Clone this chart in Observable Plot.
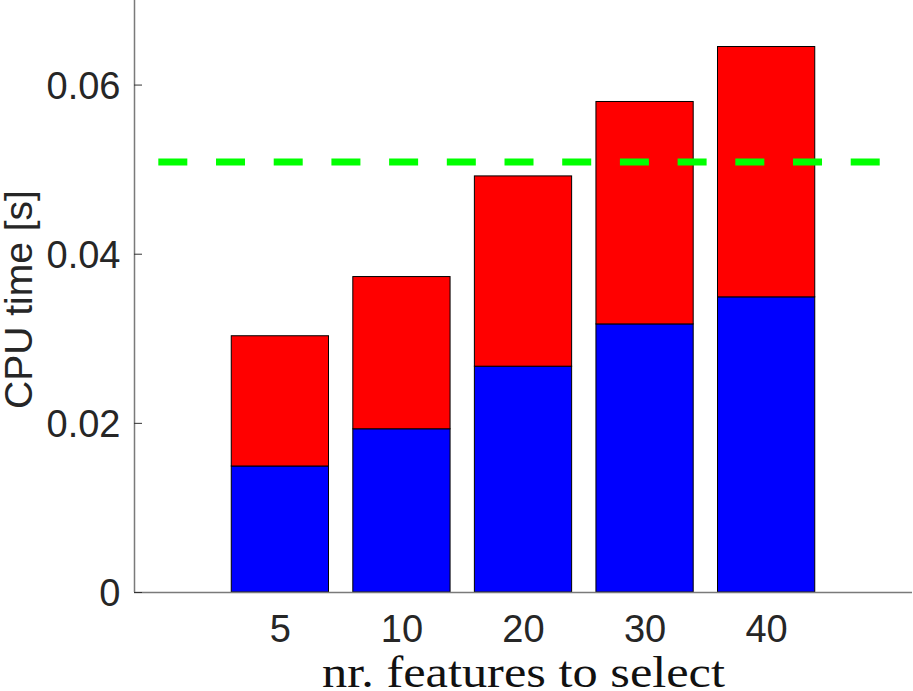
<!DOCTYPE html>
<html>
<head>
<meta charset="utf-8">
<script src="https://cdn.jsdelivr.net/npm/d3@7"></script>
<script src="https://cdn.jsdelivr.net/npm/@observablehq/plot@0.6"></script>
<style>
  html, body { margin: 0; padding: 0; background: #fff; }
  #chart svg { display: block; }
</style>
</head>
<body>
<div id="chart"></div>
<script>
// ---- data ----
const categories = ["5", "10", "20", "30", "40"];
const lowerValues = [0.0149, 0.0193, 0.0267, 0.0317, 0.0349];   // blue part
const totalValues = [0.0303, 0.0373, 0.0492, 0.0580, 0.0645];   // top of red part
const referenceValue = 0.0509;                                  // green dashed line
const yTicks = [0, 0.02, 0.04, 0.06];
const yTickLabels = ["0", "0.02", "0.04", "0.06"];
const xLabel = "nr. features to select";
const yLabel = "CPU time [s]";

// ---- build table ----
const rows = categories.map((c, i) => ({
  cat: c, pos: i + 1, lower: lowerValues[i], total: totalValues[i]
}));

const W = 913, H = 691, ML = 134, MR = 1, MT = 0, MB = 99;
const plotW = W - ML - MR;
const textColor = "#262626";

const chart = Plot.plot({
  width: W, height: H,
  marginLeft: ML, marginRight: MR, marginTop: MT, marginBottom: MB,
  style: { fontFamily: "'Liberation Sans', Arial, Helvetica, sans-serif", background: "#fff", overflow: "visible", color: textColor },
  x: { type: "linear", domain: [-0.2, 6.2] },
  y: { domain: [0, 0.07] },
  marks: [
    Plot.rect(rows, { x1: d => d.pos - 0.4, x2: d => d.pos + 0.4, y1: 0, y2: "lower", fill: "#0000ff", stroke: "#000", strokeWidth: 1 }),
    Plot.rect(rows, { x1: d => d.pos - 0.4, x2: d => d.pos + 0.4, y1: "lower", y2: "total", fill: "#ff0000", stroke: "#000", strokeWidth: 1 }),
    Plot.ruleY([referenceValue], { x1: 0, x2: 6, stroke: "#00ff00", strokeWidth: 7, strokeDasharray: "29,28.7" }),
    Plot.ruleX([-0.2], { stroke: "#7a7a7a", strokeWidth: 1.5 }),
    Plot.ruleY([0], { stroke: "#7a7a7a", strokeWidth: 1.5 }),
    Plot.tickY(yTicks, { y: d => d, stroke: "#333", strokeWidth: 1, insetRight: plotW - 8 }),
    Plot.axisY({
      ticks: yTicks, tickFormat: d => yTickLabels[yTicks.indexOf(d)],
      tickSize: 0, tickPadding: 14, fontSize: 38, dy: 1.5, label: null, fill: textColor
    }),
    Plot.axisX({
      ticks: rows.map(d => d.pos), tickFormat: d => categories[d - 1],
      tickSize: 0, tickPadding: 23, fontSize: 38, label: null, fill: textColor
    }),
    Plot.text([yLabel], { frameAnchor: "left", textAnchor: "middle", lineAnchor: "middle", dx: -115, dy: 3, rotate: -90, fontSize: 39, fill: textColor }),
    Plot.text([xLabel], { frameAnchor: "bottom", textAnchor: "middle", lineAnchor: "middle", dy: 80, fontSize: 44, fill: "#111", fontFamily: "'Liberation Serif', 'Times New Roman', serif", className: "xlab" })
  ]
});

document.getElementById("chart").appendChild(chart);
// stretch the serif label to the width of the reference's Computer Modern label
d3.select(chart).selectAll(".xlab text").attr("textLength", 403).attr("lengthAdjust", "spacingAndGlyphs");
</script>
</body>
</html>
